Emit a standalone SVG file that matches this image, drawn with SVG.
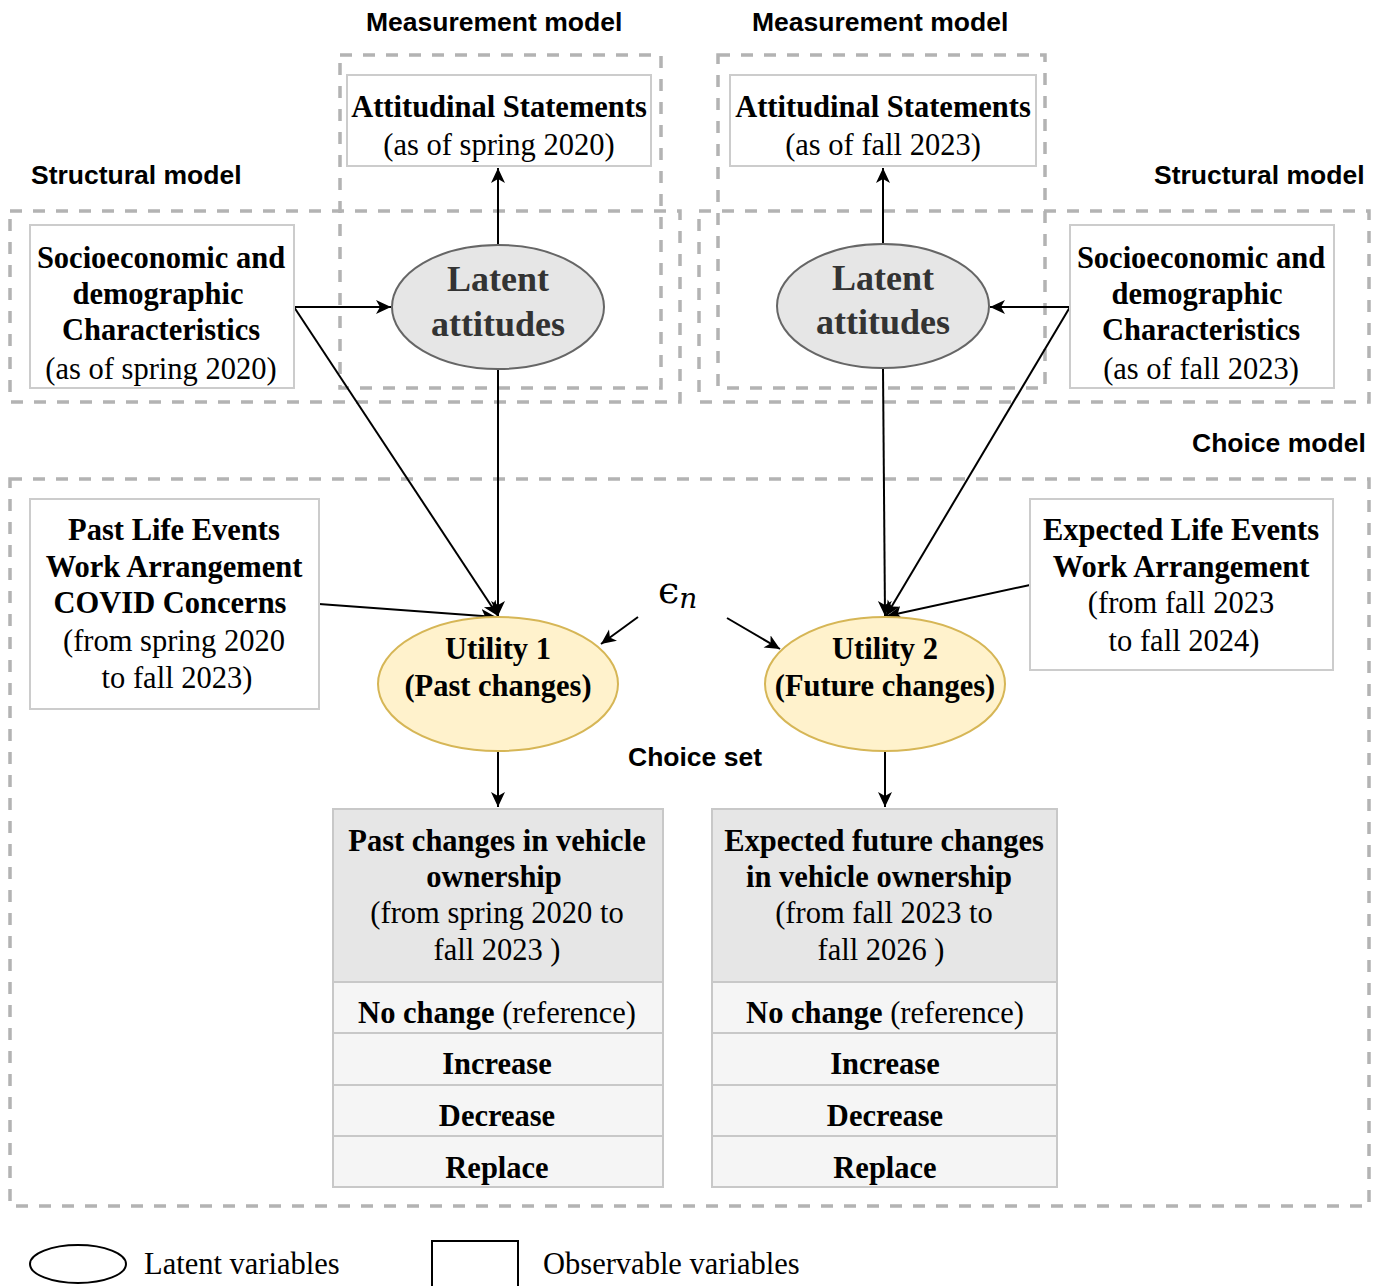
<svg xmlns="http://www.w3.org/2000/svg" width="1377" height="1286" viewBox="0 0 1377 1286">
<style>
.grp{fill:none;stroke:#b3b3b3;stroke-width:3.5;stroke-dasharray:12 11}
.obs{fill:#ffffff;stroke:#cccccc;stroke-width:2}
.lat{fill:#e6e6e6;stroke:#666666;stroke-width:2}
.uti{fill:#fff2cc;stroke:#d6b656;stroke-width:2}
.hdr{fill:#e6e6e6;stroke:#c8c8c8;stroke-width:2}
.row{fill:#f5f5f5;stroke:#c8c8c8;stroke-width:2}
.sans{font-family:"Liberation Sans",Arial,sans-serif;font-weight:bold;font-size:26.5px;fill:#000}
.sb{font-family:"Liberation Serif","Times New Roman",serif;font-weight:bold;font-size:30.5px;fill:#000;text-anchor:middle}
.sr{font-family:"Liberation Serif","Times New Roman",serif;font-size:30.5px;fill:#000;text-anchor:middle}
.lt{font-family:"Liberation Serif","Times New Roman",serif;font-weight:bold;font-size:36px;fill:#333333;text-anchor:middle}
.cn{fill:none;stroke:#000;stroke-width:2}
</style>
<defs>
<marker id="ah" markerUnits="userSpaceOnUse" markerWidth="18" markerHeight="16" refX="15" refY="7" orient="auto">
<path d="M0,0 L15,7 L0,14 L4,7 z" fill="#000"/>
</marker>
</defs>
<rect width="1377" height="1286" fill="#ffffff"/>

<g id="groups">
<rect class="grp" x="340" y="55" width="321" height="333"/>
<rect class="grp" x="718" y="55" width="327" height="333"/>
<rect class="grp" x="10" y="211" width="670" height="191"/>
<rect class="grp" x="699" y="211" width="670" height="191"/>
<rect class="grp" x="10" y="479" width="1359" height="727"/>
</g>

<g id="labels">
<text class="sans" x="366" y="31">Measurement model</text>
<text class="sans" x="752" y="31">Measurement model</text>
<text class="sans" x="31" y="184">Structural model</text>
<text class="sans" x="1154" y="184">Structural model</text>
<text class="sans" x="1192" y="452">Choice model</text>
<text class="sans" x="628" y="766">Choice set</text>
</g>

<g id="connectors">
<line class="cn" x1="498" y1="245" x2="498" y2="168" marker-end="url(#ah)"/>
<line class="cn" x1="883" y1="245" x2="883" y2="168" marker-end="url(#ah)"/>
<line class="cn" x1="294" y1="307" x2="391" y2="307" marker-end="url(#ah)"/>
<line class="cn" x1="1070" y1="307" x2="990" y2="307" marker-end="url(#ah)"/>
<line class="cn" x1="294" y1="307" x2="498" y2="616" marker-end="url(#ah)"/>
<line class="cn" x1="498" y1="370" x2="498" y2="616" marker-end="url(#ah)"/>
<line class="cn" x1="319" y1="604" x2="496" y2="617" marker-end="url(#ah)"/>
<line class="cn" x1="1070" y1="307" x2="886" y2="616" marker-end="url(#ah)"/>
<line class="cn" x1="883" y1="369" x2="885" y2="616" marker-end="url(#ah)"/>
<line class="cn" x1="1030" y1="585" x2="887" y2="616" marker-end="url(#ah)"/>
<line class="cn" x1="638" y1="617" x2="601" y2="644" marker-end="url(#ah)"/>
<line class="cn" x1="727" y1="618" x2="780" y2="649" marker-end="url(#ah)"/>
<line class="cn" x1="498" y1="752" x2="498" y2="807" marker-end="url(#ah)"/>
<line class="cn" x1="885" y1="752" x2="885" y2="807" marker-end="url(#ah)"/>
</g>

<g id="att1">
<rect class="obs" x="347" y="75" width="304" height="91"/>
<text class="sb" x="499" y="117">Attitudinal Statements</text>
<text class="sr" x="499" y="155">(as of spring 2020)</text>
</g>
<g id="att2">
<rect class="obs" x="730" y="75" width="306" height="91"/>
<text class="sb" x="883" y="117">Attitudinal Statements</text>
<text class="sr" x="883" y="155">(as of fall 2023)</text>
</g>

<g id="socio1">
<rect class="obs" x="30" y="225" width="264" height="163"/>
<text class="sb" x="161" y="268">Socioeconomic and</text>
<text class="sb" x="158" y="304">demographic</text>
<text class="sb" x="161" y="340">Characteristics</text>
<text class="sr" x="161" y="379">(as of spring 2020)</text>
</g>
<g id="socio2">
<rect class="obs" x="1070" y="225" width="264" height="163"/>
<text class="sb" x="1201" y="268">Socioeconomic and</text>
<text class="sb" x="1197" y="304">demographic</text>
<text class="sb" x="1201" y="340">Characteristics</text>
<text class="sr" x="1201" y="379">(as of fall 2023)</text>
</g>

<g id="latent1">
<ellipse class="lat" cx="498" cy="307" rx="106" ry="62"/>
<text class="lt" x="498" y="291">Latent</text>
<text class="lt" x="498" y="336">attitudes</text>
</g>
<g id="latent2">
<ellipse class="lat" cx="883" cy="306" rx="106" ry="62"/>
<text class="lt" x="883" y="290">Latent</text>
<text class="lt" x="883" y="334">attitudes</text>
</g>

<g id="past-events">
<rect class="obs" x="30" y="499" width="289" height="210"/>
<text class="sb" x="174" y="540">Past Life Events</text>
<text class="sb" x="174" y="577">Work Arrangement</text>
<text class="sb" x="170" y="613">COVID Concerns</text>
<text class="sr" x="174" y="651">(from spring 2020</text>
<text class="sr" x="177" y="688">to fall 2023)</text>
</g>
<g id="expected-events">
<rect class="obs" x="1030" y="499" width="303" height="171"/>
<text class="sb" x="1181" y="540">Expected Life Events</text>
<text class="sb" x="1181" y="577">Work Arrangement</text>
<text class="sr" x="1181" y="613">(from fall 2023</text>
<text class="sr" x="1184" y="651">to fall 2024)</text>
</g>

<g id="epsilon">
<text x="658" y="603" font-family="'DejaVu Serif',serif" font-size="38" fill="#000">ϵ<tspan font-family="'DejaVu Serif',serif" font-style="italic" font-size="28" dy="5">n</tspan></text>
</g>

<g id="utility1">
<ellipse class="uti" cx="498" cy="684" rx="120" ry="67"/>
<text class="sb" x="498" y="659">Utility 1</text>
<text class="sb" x="498" y="696">(Past changes)</text>
</g>
<g id="utility2">
<ellipse class="uti" cx="885" cy="684" rx="120" ry="67"/>
<text class="sb" x="885" y="659">Utility 2</text>
<text class="sb" x="885" y="696">(Future changes)</text>
</g>

<g id="choice1">
<rect class="hdr" x="333" y="809" width="330" height="173"/>
<text class="sb" x="497" y="851">Past changes in vehicle</text>
<text class="sb" x="494" y="887">ownership</text>
<text class="sr" x="497" y="923">(from spring 2020 to</text>
<text class="sr" x="497" y="960">fall 2023 )</text>
<rect class="row" x="333" y="982" width="330" height="51"/>
<text class="sr" x="497" y="1023"><tspan font-weight="bold">No change</tspan> (reference)</text>
<rect class="row" x="333" y="1033" width="330" height="52"/>
<text class="sb" x="497" y="1074">Increase</text>
<rect class="row" x="333" y="1085" width="330" height="51"/>
<text class="sb" x="497" y="1126">Decrease</text>
<rect class="row" x="333" y="1136" width="330" height="51"/>
<text class="sb" x="497" y="1178">Replace</text>
</g>
<g id="choice2">
<rect class="hdr" x="712" y="809" width="345" height="173"/>
<text class="sb" x="884" y="851">Expected future changes</text>
<text class="sb" x="879" y="887">in vehicle ownership</text>
<text class="sr" x="884" y="923">(from fall 2023 to</text>
<text class="sr" x="881" y="960">fall 2026 )</text>
<rect class="row" x="712" y="982" width="345" height="51"/>
<text class="sr" x="885" y="1023"><tspan font-weight="bold">No change</tspan> (reference)</text>
<rect class="row" x="712" y="1033" width="345" height="52"/>
<text class="sb" x="885" y="1074">Increase</text>
<rect class="row" x="712" y="1085" width="345" height="51"/>
<text class="sb" x="885" y="1126">Decrease</text>
<rect class="row" x="712" y="1136" width="345" height="51"/>
<text class="sb" x="885" y="1178">Replace</text>
</g>

<g id="legend">
<ellipse cx="78" cy="1264" rx="48" ry="19" fill="none" stroke="#000" stroke-width="2"/>
<text class="sr" x="144" y="1274" style="text-anchor:start">Latent variables</text>
<rect x="432" y="1241" width="86" height="55" fill="none" stroke="#000" stroke-width="2"/>
<text class="sr" x="543" y="1274" style="text-anchor:start">Observable variables</text>
</g>
</svg>
